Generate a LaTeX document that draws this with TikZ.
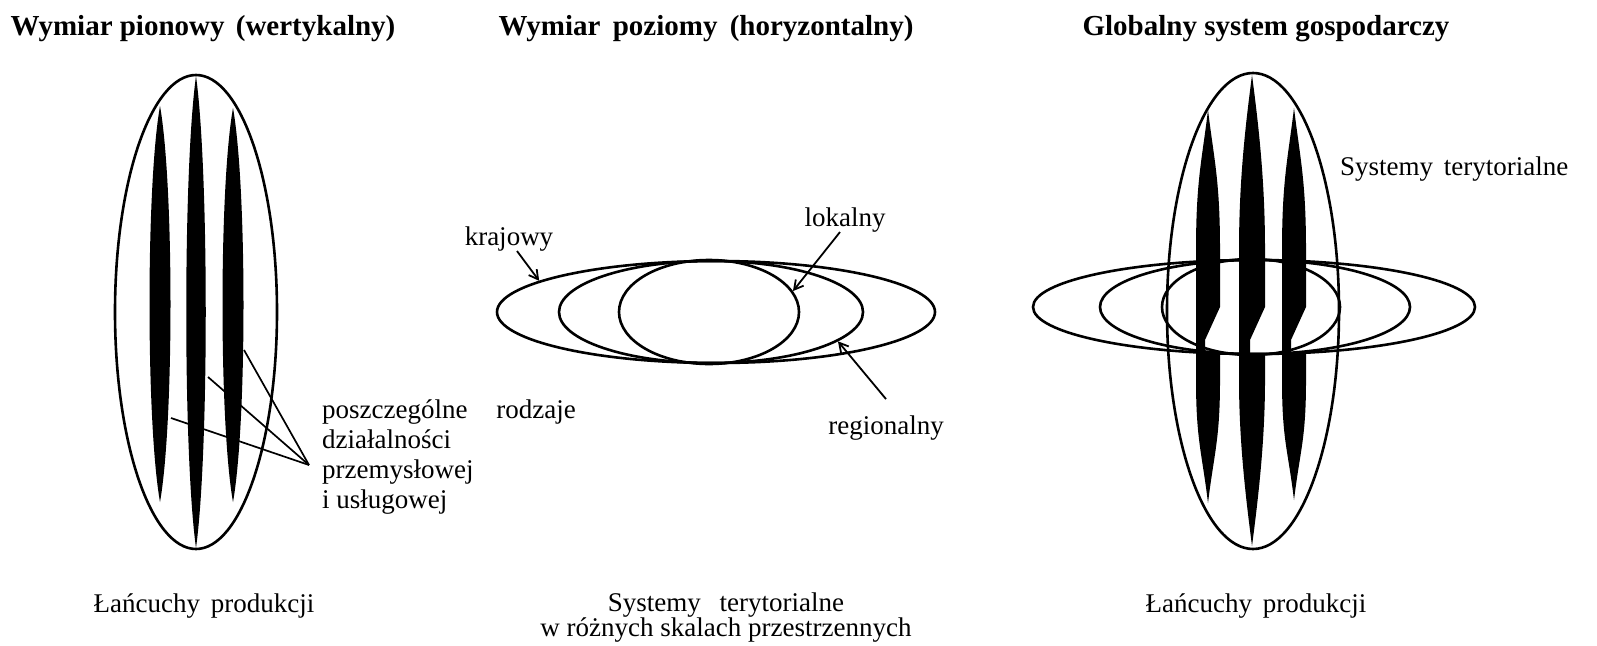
\documentclass[tikz,border=0pt]{standalone}
\usepackage{fontspec}
\setmainfont{Liberation Serif}
\usetikzlibrary{shapes.geometric,arrows.meta}
\newcommand\lensstripe[4]{\fill[stripefill] (#1,#2) .. controls ({#1+#4},{#2+0.2*(#3-#2)}) and ({#1+#4},{#3-0.2*(#3-#2)}) .. (#1,#3) .. controls ({#1-#4},{#3-0.2*(#3-#2)}) and ({#1-#4},{#2+0.2*(#3-#2)}) .. (#1,#2) -- cycle;}
\newcommand\notchstripe[4]{\fill[stripefill] (#1,#2) .. controls ({#1+0.5*#4},{#2+50}) and ({#1+#4},180) .. ({#1+#4},250) -- ({#1+#4},307) -- ({#1+#4-15},340) -- ({#1+#4-15},354) -- ({#1+#4},354) -- ({#1+#4},380) .. controls ({#1+#4},440) and ({#1+0.5*#4},{#3-50}) .. (#1,#3) .. controls ({#1-0.5*#4},{#3-50}) and ({#1-#4},440) .. ({#1-#4},380) -- ({#1-#4},250) .. controls ({#1-#4},180) and ({#1-0.5*#4},{#2+50}) .. (#1,#2) -- cycle;}
\begin{document}
\begin{tikzpicture}[x=1pt,y=-1pt,
  ttl/.style={font=\bfseries\fontsize{29}{33}\selectfont, inner sep=0pt, anchor=base},
  lbl/.style={font=\fontsize{27}{30}\selectfont, inner sep=0pt, anchor=base},
  ring/.style={draw, ellipse, line width=2.6pt, inner sep=0pt},
  stripefill/.style={fill=black},
  ptr/.style={line width=1.7pt},
  arr/.style={line width=1.8pt, -{Straight Barb[length=9pt,width=10pt,line width=1.8pt]}}]
\fill[white] (0,0) rectangle (1597,645);
\useasboundingbox (0,0) rectangle (1597,645);

% titles
\node[ttl] (t1) at (203,35) {Wymiar pionowy\hspace{4pt} (wertykalny)};
\node[ttl] (t2) at (706,35) {Wymiar\hspace{5pt} poziomy\hspace{5pt} (horyzontalny)};
\node[ttl] (t3) at (1266,35) {Globalny system gospodarczy};

% ---- left diagram
\node[ring, minimum width=162pt, minimum height=474pt] (lv) at (196,312) {};
\lensstripe{160}{106}{502}{14}
\lensstripe{196}{76}{548}{13}
\lensstripe{233}{108}{502}{14}
\node[lbl, anchor=north west, align=left] (acts) at (322,400)
  {poszczególne\hspace{22pt} rodzaje\\działalności\\przemysłowej\\i usługowej};
\coordinate (apex) at (309,465);
\coordinate (s1) at (244,350);
\coordinate (s2) at (208,377);
\coordinate (s3) at (171,418);
\draw[ptr] (apex) -- (s1);
\draw[ptr] (apex) -- (s2);
\draw[ptr] (apex) -- (s3);
\node[lbl] (lc1) at (204,612) {Łańcuchy\hspace{4pt} produkcji};

% ---- middle diagram
\node[ring, minimum width=438pt, minimum height=102pt] (hout) at (716,312) {};
\node[ring, minimum width=304pt, minimum height=102pt] (hmid) at (711,312) {};
\node[ring, minimum width=180pt, minimum height=104pt] (hin) at (709,312) {};
\node[lbl] (kraj) at (509,245) {krajowy};
\node[lbl] (lok) at (845,226) {lokalny};
\node[lbl] (reg) at (886,434) {regionalny};
\draw[arr] ([xshift=8pt]kraj.south) -- (hout.170);
\draw[arr] ([xshift=-5pt]lok.south) -- (hin.14);
\draw[arr] ([yshift=16pt]reg.north) -- (hmid.-13);
\node[lbl] (st1) at (726,611) {Systemy\hspace{12pt} terytorialne};
\node[lbl] (st2) at (726,636) {w różnych skalach przestrzennych};

% ---- right diagram
\node[ring, minimum width=172pt, minimum height=476pt] (rv) at (1253,311) {};
\node[ring, minimum width=442pt, minimum height=94pt] (ro) at (1254,307) {};
\node[ring, minimum width=310pt, minimum height=94pt] (rm) at (1255,307) {};
\node[ring, minimum width=178pt, minimum height=96pt] (ri) at (1251,307) {};
\notchstripe{1208}{110}{503}{12}
\notchstripe{1252}{75}{546}{13}
\notchstripe{1294}{108}{500}{12}
\node[lbl, anchor=base west] (sysr) at (1340,175) {Systemy\hspace{4pt} terytorialne};
\node[lbl] (lc2) at (1256,612) {Łańcuchy\hspace{4pt} produkcji};
\end{tikzpicture}
\end{document}
